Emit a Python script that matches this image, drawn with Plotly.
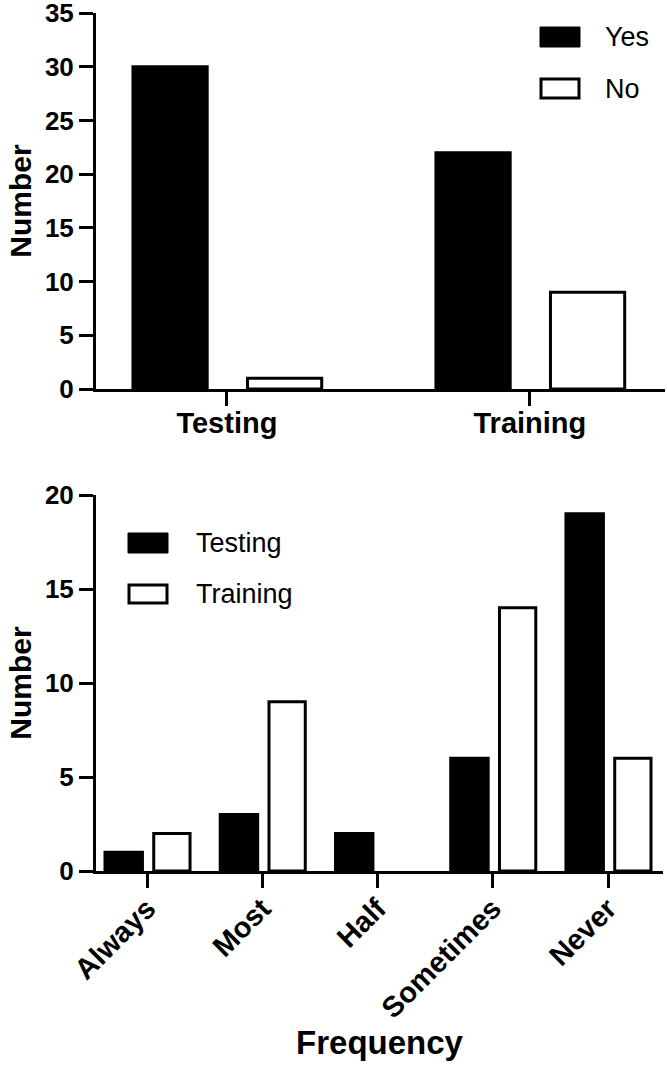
import plotly.graph_objects as go

# ---- data ----
top_categories = ["Testing", "Training"]
top_yes = [30, 22]
top_no = [1, 9]
top_yticks = [0, 5, 10, 15, 20, 25, 30, 35]

freq_categories = ["Always", "Most", "Half", "Sometimes", "Never"]
freq_testing = [1, 3, 2, 6, 19]
freq_training = [2, 9, 0, 14, 6]
freq_yticks = [0, 5, 10, 15, 20]

FONT = "Liberation Sans, Arial, Helvetica, sans-serif"
W, H = 667, 1075

fig = go.Figure()

# top chart
fig.add_trace(go.Bar(x=top_categories, y=top_yes, name="Yes", xaxis="x", yaxis="y",
                     marker=dict(color="black", line=dict(color="black", width=3)),
                     width=0.245, offset=-0.31, showlegend=False))
fig.add_trace(go.Bar(x=top_categories, y=top_no, name="No", xaxis="x", yaxis="y",
                     marker=dict(color="white", line=dict(color="black", width=3)),
                     width=0.245, offset=0.068, showlegend=False))

# bottom chart (no outline drawn for zero-height bars)
fig.add_trace(go.Bar(x=freq_categories, y=freq_testing, name="Testing", xaxis="x2", yaxis="y2",
                     marker=dict(color="black",
                                 line=dict(color="black", width=[3 if v > 0 else 0 for v in freq_testing])),
                     width=0.325, offset=-0.365, showlegend=False))
fig.add_trace(go.Bar(x=freq_categories, y=freq_training, name="Training", xaxis="x2", yaxis="y2",
                     marker=dict(color="white",
                                 line=dict(color="black", width=[3 if v > 0 else 0 for v in freq_training])),
                     width=0.315, offset=0.058, showlegend=False))

def px_x(p):
    return p / W

def px_y(p):
    return 1 - p / H

axis_common = dict(showline=True, linewidth=3, linecolor="black", ticks="outside",
                   ticklen=14, tickwidth=3, tickcolor="black", showgrid=False,
                   zeroline=False, automargin=False, ticklabeloverflow="allow")

ytick_font = dict(family=FONT, size=26, color="black", weight="bold")
xtick_font = dict(family=FONT, size=29, color="black", weight="bold")

fig.update_layout(
    width=W, height=H,
    margin=dict(l=0, r=0, t=0, b=0),
    paper_bgcolor="white", plot_bgcolor="white",
    barmode="overlay",
    font=dict(family=FONT, color="black"),
    xaxis=dict(domain=[px_x(96), px_x(665)], anchor="y", type="category",
               range=[-0.432, 1.446], tickfont=xtick_font, ticklabelstandoff=-8,
               **axis_common),
    yaxis=dict(domain=[px_y(389), px_y(13)], anchor="x", range=[0, 35],
               tickvals=top_yticks, tickfont=ytick_font,
               title=dict(text="Number", font=dict(family=FONT, size=30, weight="bold"), standoff=5),
               **axis_common),
    xaxis2=dict(domain=[px_x(96), px_x(663)], anchor="y2", type="category",
                range=[-0.443, 4.477], tickangle=-45, tickfont=xtick_font, ticklabelstandoff=-8,
                title=dict(text="Frequency", font=dict(family=FONT, size=33, weight="bold"), standoff=8),
                **axis_common),
    yaxis2=dict(domain=[px_y(871), px_y(495)], anchor="x2", range=[0, 20],
                tickvals=freq_yticks, tickfont=ytick_font,
                title=dict(text="Number", font=dict(family=FONT, size=30, weight="bold"), standoff=5),
                **axis_common),
)

# manual legends (swatches + text)
legend_items = [
    # (x0, y0, x1, y1, fill, label, text_x, text_y)
    (540, 27, 580, 47, "black", "Yes", 603, 37),
    (541, 79, 579, 98, "white", "No", 603, 89),
    (128, 533, 168, 553, "black", "Testing", 194, 543),
    (129, 585, 167, 603, "white", "Training", 194, 594),
]
for x0, y0, x1, y1, fill, label, tx, ty in legend_items:
    fig.add_shape(type="rect", xref="paper", yref="paper",
                  x0=px_x(x0), x1=px_x(x1), y0=px_y(y1), y1=px_y(y0),
                  fillcolor=fill, line=dict(color="black", width=3 if fill == "white" else 1))
    fig.add_annotation(xref="paper", yref="paper", x=px_x(tx), y=px_y(ty),
                       text=label, showarrow=False, xanchor="left", yanchor="middle",
                       font=dict(family=FONT, size=27, color="black"))

# remove the browser's default page margin so the figure fills the window exactly
fig.write_html("out.html", config={"displayModeBar": False},
               post_script="document.body.style.margin='0px';")
